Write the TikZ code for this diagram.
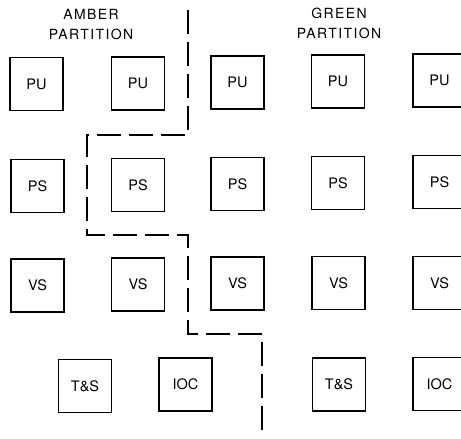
\documentclass[tikz,border=0pt]{standalone}
\usepackage{fontspec}
\setmainfont{TeX Gyre Heros}
\newfontfamily\partfont[LetterSpace=10]{TeX Gyre Heros}
\tikzset{
	unit/.style={draw, line width=1.3pt, minimum width=53pt, minimum height=53pt, inner sep=0pt, font=\fontsize{14.5}{17}\selectfont},
	partlabel/.style={align=center, font=\partfont\fontsize{14}{20}\selectfont},
	partline/.style={line width=2.2pt, dash pattern=on 24pt off 8pt, line join=miter}
}
\begin{document}
\begin{tikzpicture}[x=1pt, y=-1pt]
		\useasboundingbox (0,0) rectangle (461,439);
		\clip (0,0) rectangle (461,439);
		
		% Подписи разделов
		\node[partlabel] (amber) at (91,25) {AMBER\\PARTITION};
		\node[partlabel] (green) at (339,23) {GREEN\\PARTITION};
		
		% Ряд PU
		\node[unit] (pu1) at (36.5,84) {PU};
		\node[unit] (pu2) at (138,83.5) {PU};
		\node[unit] (pu3) at (237.5,82.5) {PU};
		\node[unit] (pu4) at (338,81.5) {PU};
		\node[unit] (pu5) at (439.5,80.5) {PU};
		
		% Ряд PS
		\node[unit] (ps1) at (37.5,186) {PS};
		\node[unit] (ps2) at (138,185) {PS};
		\node[unit] (ps3) at (237.5,184) {PS};
		\node[unit] (ps4) at (338,183) {PS};
		\node[unit] (ps5) at (439.5,182) {PS};
		
		% Ряд VS
		\node[unit] (vs1) at (37.5,285.5) {VS};
		\node[unit] (vs2) at (138,284.5) {VS};
		\node[unit] (vs3) at (237.5,283.5) {VS};
		\node[unit] (vs4) at (338.5,283) {VS};
		\node[unit] (vs5) at (439.5,283) {VS};
		
		% Нижний ряд
		\node[unit] (ts1) at (85,386) {T\&S};
		\node[unit] (ioc1) at (185.5,384.5) {IOC};
		\node[unit] (ts2) at (339,384.5) {T\&S};
		\node[unit] (ioc2) at (439.5,384) {IOC};
		
		% Граница разделов
		\draw[partline] (188,10) -- (188,135) -- (87,135) -- (87,235) -- (188,235) -- (188,334) -- (262,334) -- (262,436);
	\end{tikzpicture}
\end{document}
